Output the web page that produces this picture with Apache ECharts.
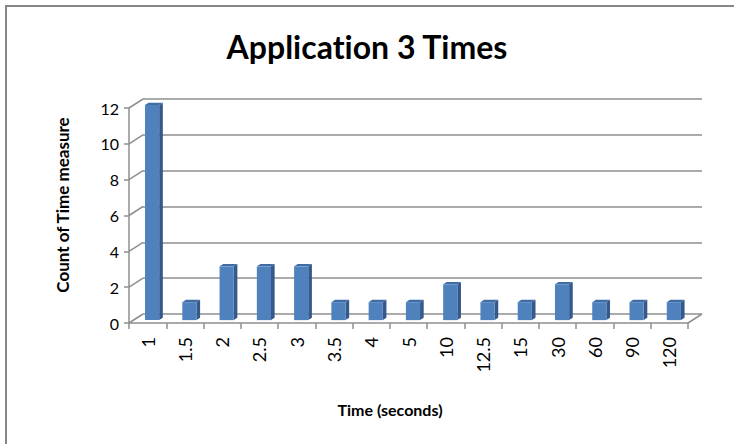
<!DOCTYPE html>
<html>
<head>
<meta charset="utf-8">
<script src="https://cdn.jsdelivr.net/npm/echarts@6/dist/echarts.min.js"></script>
<style>
  html, body { margin: 0; padding: 0; background: #ffffff; }
  #chart { width: 734px; height: 444px; }
  #chart svg text { font-variant-ligatures: none; }
</style>
</head>
<body>
<div id="chart"></div>
<script>
// Response-time buckets (seconds) and how many measurements fell into each
var categories = ['1', '1.5', '2', '2.5', '3', '3.5', '4', '5', '10', '12.5', '15', '30', '60', '90', '120'];
var counts = [12, 1, 3, 3, 3, 1, 1, 1, 2, 1, 1, 2, 1, 1, 1];
var yTicks = [0, 2, 4, 6, 8, 10, 12];

// Depth of the 3-D floor / walls (pixels the back wall is shifted by)
var DEPTH_X = 14;
var DEPTH_Y = 9;
var FONT = 'Lato, "Liberation Sans", sans-serif';
var GRID_COLOR = '#8f8f8f';

var chart = echarts.init(document.getElementById('chart'), null, { renderer: 'svg' });

// Diagonal edges of the left wall (one per y tick) and the right floor edge
function renderWallEdges(params, api) {
  var v = api.value(0);
  var band = api.size([1, 0])[0];
  var p = api.coord([0, v]);
  var x0 = p[0] - band / 2;
  var children = [{
    type: 'line',
    shape: { x1: x0, y1: p[1], x2: x0 + DEPTH_X, y2: p[1] - DEPTH_Y },
    style: { stroke: GRID_COLOR, lineWidth: 1.5 }
  }];
  if (v === 0) {
    var q = api.coord([categories.length - 1, 0]);
    var x1 = q[0] + band / 2;
    children.push({
      type: 'line',
      shape: { x1: x1, y1: q[1], x2: x1 + DEPTH_X, y2: q[1] - DEPTH_Y },
      style: { stroke: GRID_COLOR, lineWidth: 1.5 }
    });
  }
  return { type: 'group', children: children };
}

// 3-D column: front face, top face and right side face
function renderColumn(params, api) {
  var idx = api.value(0);
  var top = api.coord([idx, api.value(1)]);
  var base = api.coord([idx, 0]);
  var band = api.size([1, 0])[0];
  var w = band * 0.38;
  var f0 = 0.32, f1 = 0.58; // depth range occupied by the column
  var fx = f0 * DEPTH_X, fy = f0 * DEPTH_Y;
  var bx = f1 * DEPTH_X, by = f1 * DEPTH_Y;
  var left = top[0] - w / 2 + fx;
  var right = left + w;
  var yTop = top[1] - fy;
  var yBot = base[1] - fy;
  var dx = bx - fx, dy = by - fy;
  return {
    type: 'group',
    children: [
      {
        type: 'polygon',
        shape: { points: [[right, yTop], [right + dx, yTop - dy], [right + dx, yBot - dy], [right, yBot]] },
        style: { fill: '#34598a' }
      },
      {
        type: 'polygon',
        shape: { points: [[left, yTop], [left + dx, yTop - dy], [right + dx, yTop - dy], [right, yTop]] },
        style: { fill: '#3f6ca3' }
      },
      {
        type: 'rect',
        shape: { x: left, y: yTop, width: w, height: yBot - yTop },
        style: { fill: '#4f81bd' }
      }
    ]
  };
}

var option = {
  animation: false,
  backgroundColor: '#ffffff',
  title: {
    text: 'Application 3 Times',
    left: 'center',
    top: 25,
    textStyle: { fontFamily: FONT, fontSize: 32, fontWeight: 'bold', color: '#000000' }
  },
  graphic: [
    {
      type: 'rect',
      shape: { x: 6, y: 6, width: 800, height: 500 },
      style: { fill: 'none', stroke: '#878787', lineWidth: 2 },
      silent: true
    },
    {
      type: 'text',
      x: 390,
      y: 409,
      style: {
        text: 'Time (seconds)',
        fill: '#000000',
        font: 'bold 16px ' + FONT,
        align: 'center',
        verticalAlign: 'middle'
      },
      silent: true
    },
    {
      type: 'text',
      x: 62,
      y: 205,
      rotation: Math.PI / 2,
      style: {
        text: 'Count of Time measure',
        fill: '#000000',
        font: 'bold 17px ' + FONT,
        align: 'center',
        verticalAlign: 'middle'
      },
      silent: true
    }
  ],
  grid: [
    { left: 129, top: 108, width: 559, height: 215 },
    { left: 129 + DEPTH_X, top: 108 - DEPTH_Y, width: 559, height: 215 }
  ],
  xAxis: [
    {
      type: 'category',
      gridIndex: 0,
      data: categories,
      boundaryGap: true,
      axisLine: { lineStyle: { color: GRID_COLOR, width: 1.5 } },
      axisTick: { show: true, length: 6, alignWithLabel: false, lineStyle: { color: GRID_COLOR, width: 1.5 } },
      axisLabel: { rotate: 90, margin: 14, fontFamily: FONT, fontSize: 18, color: '#000000', interval: 0 },
      splitLine: { show: false }
    },
    {
      type: 'category',
      gridIndex: 1,
      data: categories,
      show: false
    }
  ],
  yAxis: [
    {
      type: 'value',
      gridIndex: 0,
      min: 0,
      max: 12,
      interval: 2,
      axisLine: { show: true, lineStyle: { color: GRID_COLOR, width: 1.5 } },
      axisTick: { show: true, length: 5, lineStyle: { color: GRID_COLOR, width: 1.5 } },
      axisLabel: {
        margin: 10,
        fontFamily: FONT,
        fontSize: 16,
        color: '#000000',
        align: 'right',
        formatter: function (v) { return yTicks.indexOf(v) >= 0 ? String(v) : ''; }
      },
      splitLine: { show: false }
    },
    {
      type: 'value',
      gridIndex: 1,
      min: 0,
      max: 12,
      interval: 2,
      axisLine: { show: false },
      axisTick: { show: false },
      axisLabel: { show: false },
      splitLine: { show: true, lineStyle: { color: GRID_COLOR, width: 1.5 } }
    }
  ],
  series: [
    {
      type: 'custom',
      xAxisIndex: 0,
      yAxisIndex: 0,
      clip: false,
      silent: true,
      renderItem: renderWallEdges,
      data: yTicks.map(function (v) { return [v]; }),
      z: 1
    },
    {
      type: 'custom',
      xAxisIndex: 0,
      yAxisIndex: 0,
      clip: false,
      silent: true,
      renderItem: renderColumn,
      data: counts.map(function (c, i) { return [i, c]; }),
      z: 5
    }
  ]
};

chart.setOption(option);
</script>
</body>
</html>
